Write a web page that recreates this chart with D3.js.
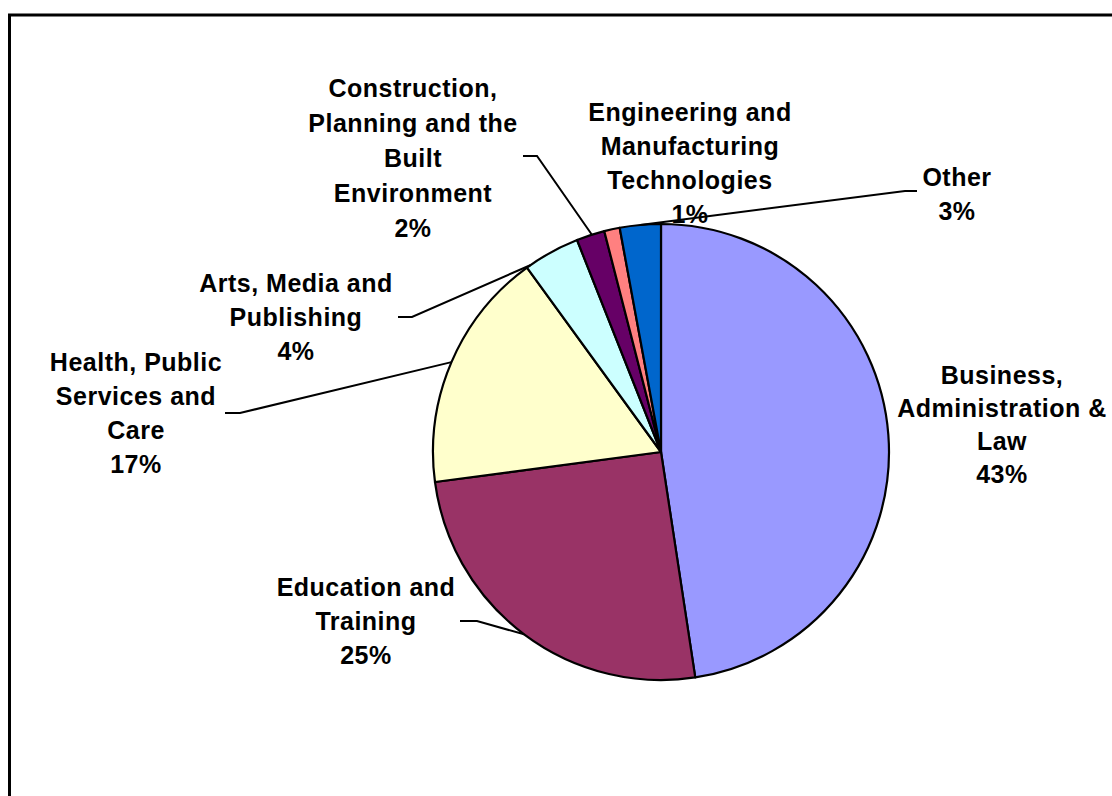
<!DOCTYPE html>
<html>
<head>
<meta charset="utf-8">
<script src="https://cdn.jsdelivr.net/npm/d3@7"></script>
<style>
  html, body { margin: 0; padding: 0; background: #fff; }
  svg { display: block; }
  text { font-family: "Liberation Sans", Arial, sans-serif; font-weight: bold; font-size: 25px; fill: #000; letter-spacing: 0.5px; }
</style>
</head>
<body>
<svg id="chart" width="1112" height="796"></svg>
<script>
// ---- data ----
const categories = [
  "Business, Administration & Law",
  "Education and Training",
  "Health, Public Services and Care",
  "Arts, Media and Publishing",
  "Construction, Planning and the Built Environment",
  "Engineering and Manufacturing Technologies",
  "Other"
];
const values = [47.6, 25.3, 17.1, 4.0, 2.0, 1.1, 2.9];
const pctLabels = ["43%", "25%", "17%", "4%", "2%", "1%", "3%"];
const labelLines = [
  ["Business,", "Administration &", "Law"],
  ["Education and", "Training"],
  ["Health, Public", "Services and", "Care"],
  ["Arts, Media and", "Publishing"],
  ["Construction,", "Planning and the", "Built", "Environment"],
  ["Engineering and", "Manufacturing", "Technologies"],
  ["Other"]
];
const colors = ["#9999FF", "#993366", "#FFFFCC", "#CCFFFF", "#660066", "#FF8080", "#0066CC"];

// ---- layout ----
const cx = 661, cy = 452, R = 228, lineH = 34;
// label block: centre x, centre y of first line; leader: stub [xa, xb, y], fraction into slice
const layout = [
  { x: 1002, y: 375, lh: 33 },
  { x: 366, y: 587, stub: [460, 477, 621], f: 0.5 },
  { x: 136, y: 362, stub: [225, 240, 413], f: 0.5 },
  { x: 296, y: 283, stub: [398, 412, 317], f: 0.07 },
  { x: 413, y: 88, lh: 35, stub: [523, 537, 156], f: 0.55 },
  { x: 690, y: 112 },
  { x: 957, y: 177, stub: [917, 905, 191], f: 0.5 }
];

const svg = d3.select("#chart");

// outer frame (extends beyond the visible area on the right/bottom)
svg.append("rect")
  .attr("x", 9.5).attr("y", 15)
  .attr("width", 1200).attr("height", 900)
  .attr("fill", "none").attr("stroke", "#000").attr("stroke-width", 3);

const pie = d3.pie().sort(null).value(d => d)(values);
const arc = d3.arc().innerRadius(0).outerRadius(R);

const g = svg.append("g").attr("transform", `translate(${cx},${cy})`);
g.selectAll("path.slice")
  .data(pie)
  .join("path")
  .attr("class", "slice")
  .attr("d", arc)
  .attr("fill", (d, i) => colors[i])
  .attr("stroke", "#000")
  .attr("stroke-width", 2.2)
  .attr("stroke-linejoin", "round");

// leader lines
pie.forEach((d, i) => {
  const L = layout[i];
  if (!L.stub) return;
  const a = d.startAngle + L.f * (d.endAngle - d.startAngle);
  const ex = cx + R * Math.sin(a), ey = cy - R * Math.cos(a);
  const [xa, xb, y] = L.stub;
  svg.append("path")
    .attr("d", d3.line()([[xa, y], [xb, y], [ex, ey]]))
    .attr("fill", "none").attr("stroke", "#000").attr("stroke-width", 2);
});

// labels
pie.forEach((d, i) => {
  const L = layout[i];
  const lh = L.lh || lineH;
  const lines = labelLines[i].concat([pctLabels[i]]);
  const t = svg.append("text").attr("text-anchor", "middle");
  lines.forEach((s, k) => {
    t.append("tspan").attr("x", L.x).attr("y", L.y + k * lh + 9).text(s);
  });
});
</script>
</body>
</html>
